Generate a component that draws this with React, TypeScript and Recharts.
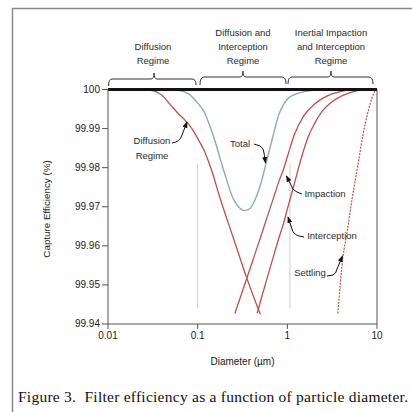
import React from 'react';
import { LineChart, Line, XAxis, YAxis, ReferenceLine } from 'recharts';

// ---- Data (diameter in µm, capture efficiency in %) ----
const totalD = [0.01, 0.04, 0.06, 0.08, 0.1, 0.12, 0.14, 0.16, 0.18, 0.2, 0.25, 0.3, 0.33, 0.38, 0.45, 0.5, 0.6, 0.7, 0.8, 0.9, 1.0, 1.2, 1.5, 2, 3, 10];
const totalE = [100, 100, 99.9998, 99.9988, 99.9965, 99.994, 99.99, 99.986, 99.982, 99.9785, 99.972, 99.9695, 99.969, 99.9695, 99.9725, 99.9755, 99.9825, 99.9885, 99.9935, 99.996, 99.9975, 99.9987, 99.9994, 99.9998, 100, 100];

const diffusionD = [0.01, 0.02, 0.03, 0.04, 0.05, 0.06, 0.07, 0.08, 0.1, 0.12, 0.14, 0.18, 0.25, 0.35, 0.45, 0.5];
const diffusionE = [100, 100, 99.9998, 99.9985, 99.996, 99.994, 99.9925, 99.991, 99.9875, 99.984, 99.98, 99.9718, 99.962, 99.952, 99.9452, 99.9425];

const impactionD = [0.26, 0.3, 0.4, 0.5, 0.6, 0.7, 0.8, 0.9, 1.0, 1.2, 1.5, 2, 2.5, 3, 4, 5, 6, 10];
const impactionE = [99.9427, 99.9469, 99.9554, 99.962, 99.9676, 99.9722, 99.9763, 99.9794, 99.9828, 99.9885, 99.993, 99.9962, 99.9978, 99.9987, 99.9995, 99.9999, 100, 100];

const interceptionD = [0.46, 0.5, 0.6, 0.7, 0.8, 0.9, 1.0, 1.2, 1.4, 1.7, 2, 2.5, 3, 4, 5, 7, 8, 10];
const interceptionE = [99.9427, 99.9457, 99.952, 99.9573, 99.9618, 99.9655, 99.9694, 99.976, 99.9817, 99.9878, 99.9912, 99.9947, 99.9965, 99.9983, 99.9992, 99.9999, 100, 100];

const settlingD = [3.66, 4.17, 4.62, 5.25, 6.12, 6.96, 7.92, 8.78, 9.72, 10];
const settlingE = [99.9427, 99.9571, 99.9632, 99.9717, 99.9806, 99.9883, 99.9942, 99.9978, 99.9999, 100];

const xTicks = [0.01, 0.1, 1, 10];
const yTicks = [99.94, 99.95, 99.96, 99.97, 99.98, 99.99, 100];
const regimeBoundaries = [0.1, 1.07];

const zip = (d: number[], e: number[]) => d.map((v, i) => ({ d: v, e: e[i] }));
const totalData = zip(totalD, totalE);
const diffusionData = zip(diffusionD, diffusionE);
const impactionData = zip(impactionD, impactionE);
const interceptionData = zip(interceptionD, interceptionE);
const settlingData = zip(settlingD, settlingE);

const RED = '#c0504a';
const BLUE = '#8fa8ba';
const AXIS = '#555';
const FONT = 'Liberation Sans, Arial, sans-serif';

const XTick = (props: any) => {
  const { x, y, payload } = props;
  return (
    <text x={x} y={y + 8} fontSize={10} fill="#222" fontFamily={FONT} textAnchor="middle">
      {String(payload.value)}
    </text>
  );
};

const YTick = (props: any) => {
  const { x, y, payload } = props;
  const v: number = payload.value;
  return (
    <text x={x} y={y + 3.4} fontSize={10} fill="#222" fontFamily={FONT} textAnchor="end">
      {v === 100 ? '100' : v.toFixed(2)}
    </text>
  );
};

const T = (props: { x: number; y: number; children: React.ReactNode; size?: number; anchor?: string }) => (
  <text x={props.x} y={props.y} fontSize={props.size ?? 9.5} fill="#2a2a2a" fontFamily={FONT} textAnchor={(props.anchor as any) ?? 'middle'}>
    {props.children}
  </text>
);

export default function App() {
  return (
    <div style={{ position: 'absolute', left: 0, top: 0, width: 412, height: 412, background: '#fff' }}>
      <LineChart width={412} height={412} margin={{ top: 89.5, right: 35, bottom: 58, left: 48 }}>
        <XAxis
          dataKey="d"
          type="number"
          scale="log"
          domain={[0.01, 10]}
          ticks={xTicks}
          allowDataOverflow
          tick={<XTick />}
          tickSize={5}
          tickMargin={2}
          height={30}
          stroke={AXIS}
        />
        <YAxis
          dataKey="e"
          type="number"
          domain={[99.94, 100]}
          ticks={yTicks}
          allowDataOverflow
          tick={<YTick />}
          tickSize={6}
          tickMargin={2}
          width={60}
          stroke={AXIS}
        />
        {regimeBoundaries.map((b) => (
          <ReferenceLine key={b} segment={[{ x: b, y: 99.981 }, { x: b, y: 99.944 }]} stroke="#cfcfcf" strokeWidth={1} />
        ))}
        <ReferenceLine x={10} stroke={AXIS} strokeWidth={1} />
        <Line data={diffusionData} dataKey="e" type="monotone" stroke={RED} strokeWidth={1.3} dot={false} isAnimationActive={false} />
        <Line data={impactionData} dataKey="e" type="monotone" stroke={RED} strokeWidth={1.3} dot={false} isAnimationActive={false} />
        <Line data={interceptionData} dataKey="e" type="monotone" stroke={RED} strokeWidth={1.3} dot={false} isAnimationActive={false} />
        <Line data={settlingData} dataKey="e" type="monotone" stroke={RED} strokeWidth={1.2} strokeDasharray="2 1.2" dot={false} isAnimationActive={false} />
        <Line data={totalData} dataKey="e" type="monotone" stroke={BLUE} strokeWidth={1.4} dot={false} isAnimationActive={false} />
        <ReferenceLine y={100} stroke="#111" strokeWidth={2.8} />
      </LineChart>

      <svg width={412} height={412} style={{ position: 'absolute', left: 0, top: 0, pointerEvents: 'none' }}>
        <defs>
          <marker id="ah" viewBox="0 0 8 6" refX="7" refY="3" markerWidth="7" markerHeight="5" markerUnits="userSpaceOnUse" orient="auto">
            <path d="M0,0 L8,3 L0,6 z" fill="#111" />
          </marker>
        </defs>
        {/* outer frame */}
        <path d="M12.5,412 V8.5 H412" stroke="#8a8a8a" strokeWidth={1.5} fill="none" />

        {/* regime brackets */}
        <g stroke="#333" strokeWidth={1} fill="none">
          <path d="M108.5,86 Q108.5,79 112,79 H151 Q154,79 154,73 Q154,79 157,79 H192 Q196,79 196,85" />
          <path d="M200,85 Q200,77 204,77 H240 Q243,77 243,71 Q243,77 246,77 H282 Q286,77 286,84" />
          <path d="M288,84 Q288,77 292,77 H328 Q331,77 331,71 Q331,77 334,77 H369 Q373,77 373,84" />
        </g>
        <T x={153} y={49.5}>Diffusion</T>
        <T x={153} y={63.5}>Regime</T>
        <T x={243} y={35.5}>Diffusion and</T>
        <T x={243} y={49.5}>Interception</T>
        <T x={243} y={63.5}>Regime</T>
        <T x={331} y={35.5}>Inertial Impaction</T>
        <T x={331} y={49.5}>and Interception</T>
        <T x={331} y={63.5}>Regime</T>

        {/* curve annotations */}
        <T x={152} y={143.5}>Diffusion</T>
        <T x={152} y={158.5}>Regime</T>
        <T x={240} y={146.5}>Total</T>
        <T x={325} y={196.5}>Impaction</T>
        <T x={332} y={238.5}>Interception</T>
        <T x={310} y={275.5}>Settling</T>
        <g stroke="#111" strokeWidth={1} fill="none">
          <path d="M172,143 Q180,142 182,135 L187,122" markerEnd="url(#ah)" />
          <path d="M254,144 L260,146 Q264,148 264,153 L265.5,163" markerEnd="url(#ah)" />
          <path d="M302,194 L297,192 Q292,190 291,185 L286.5,176" markerEnd="url(#ah)" />
          <path d="M304,237 L299,236 Q293,234 292,229 L288,217" markerEnd="url(#ah)" />
          <path d="M327,276 L333,275 Q336,274 337,269 L342.5,256" markerEnd="url(#ah)" />
        </g>

        {/* axis titles */}
        <text x={47} y={209} transform="rotate(-90 47 209)" fontSize={9.8} fill="#222" fontFamily={FONT} textAnchor="middle" dominantBaseline="middle">
          Capture Efficiency (%)
        </text>
        <text x={242.5} y={364.5} fontSize={10} fill="#222" fontFamily={FONT} textAnchor="middle">
          Diameter (µm)
        </text>

        {/* caption */}
        <text x={18} y={402} fontSize={15.5} fill="#111" fontFamily="Liberation Serif, Times New Roman, serif" textLength={390} lengthAdjust="spacing">
          Figure 3.{'\u00A0\u00A0'}Filter efficiency as a function of particle diameter.
        </text>
      </svg>
    </div>
  );
}
